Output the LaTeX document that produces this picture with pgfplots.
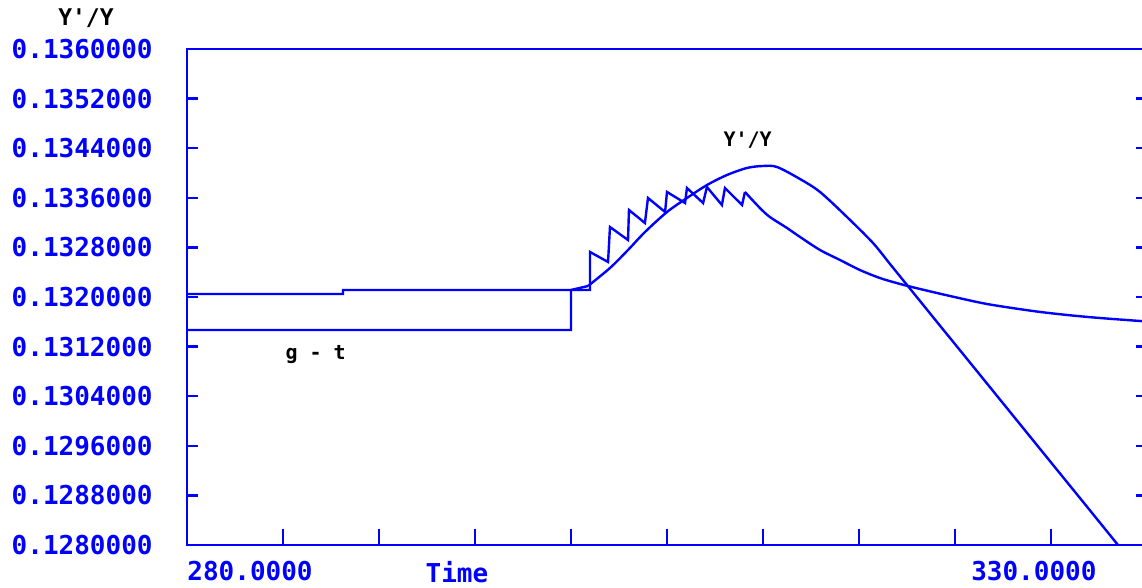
\documentclass[border=0pt]{standalone}
\usepackage{fontspec}
\usepackage{pgfplots}
\pgfplotsset{compat=1.18}
\newfontfamily\mono{DejaVu Sans Mono}
\definecolor{pblue}{RGB}{0,0,255}
\begin{document}
\begin{tikzpicture}
\begin{axis}[
  scale only axis,
  width=480pt, height=248pt,
  xmin=280, xmax=330, ymin=0.128, ymax=0.136,
  axis line style={pblue, line width=1.2pt},
  tick style={pblue, line width=1.2pt},
  tick align=inside,
  major tick length=5.5pt,
  xtick style={/pgfplots/major tick length=8pt},
  xtick={280,285,...,325},
  xticklabel=\empty,
  xtick pos=bottom,
  ytick pos=both,
  ytick={0.128,0.1288,0.1296,0.1304,0.1312,0.132,0.1328,0.1336,0.1344,0.1352,0.136},
  yticklabels={0.1280000,0.1288000,0.1296000,0.1304000,0.1312000,0.1320000,0.1328000,0.1336000,0.1344000,0.1352000,0.1360000},
  scaled y ticks=false,
  yticklabel style={font=\mono\bfseries\fontsize{13}{13}\selectfont, text=pblue, anchor=east, inner sep=0pt, xshift=-17pt},
  clip=false,
]
% g - t : step part
\addplot[pblue, line width=1.2pt] coordinates {
(280,0.131468) (300,0.131468) (300,0.132113) (300.885,0.132177)
};
% g - t : smooth part
\addplot[pblue, line width=1.2pt, smooth, tension=0.5] coordinates {
(300.885,0.132177) (302.031,0.132468) (302.969,0.132758) (303.854,0.133048)
(305.0,0.133371) (306.042,0.133597) (307.083,0.133806) (308.125,0.133968)
(309.167,0.134081) (310.0,0.134113) (310.729,0.134097) (311.927,0.133903)
(312.969,0.133694) (314.375,0.133290) (315.729,0.132871) (316.615,0.132532)
(317.5,0.132194) (318.333,0.131876) (319.219,0.131537) (320.0,0.131240)
(321.458,0.130684) (323.229,0.130008) (324.948,0.129352) (326.667,0.128697)
(328.49,0.128000)
};
% Y'/Y : step and sawtooth part
\addplot[pblue, line width=1.2pt] coordinates {
(280,0.132048) (288.125,0.132048) (288.125,0.132113) (300.99,0.132113)
(300.99,0.132726) (301.93,0.132565) (302.03,0.133129) (302.97,0.132919)
(303.02,0.133403) (303.85,0.133194) (304.01,0.133597) (304.90,0.133371)
(305.00,0.133694) (305.94,0.133516) (306.04,0.133758) (306.88,0.133516)
(307.08,0.133774) (307.86,0.133484) (308.02,0.133758) (308.91,0.133484)
(309.06,0.133694)
};
% Y'/Y : smooth decline
\addplot[pblue, line width=1.2pt, smooth, tension=0.5] coordinates {
(309.06,0.133694) (309.84,0.133435) (310.36,0.133290) (311.25,0.133113)
(311.93,0.132968) (312.97,0.132758) (314.01,0.132597) (315.05,0.132435)
(316.09,0.132306) (317.14,0.132210) (318.18,0.132129) (319.74,0.132016)
(321.67,0.131887) (324.06,0.131774) (325.83,0.131710) (327.55,0.131661)
(330,0.131605)
};
\coordinate (BL) at (rel axis cs:0,0);
\coordinate (TL) at (rel axis cs:0,1);
\node[font=\mono\bfseries\fontsize{10}{10}\selectfont] at (axis cs:309.2,0.134532) {Y'/Y};
\node[font=\mono\bfseries\fontsize{10}{10}\selectfont] at (axis cs:286.7,0.131065) {g - t};
\node[anchor=north west, inner sep=0pt, text=pblue, font=\mono\bfseries\fontsize{13}{13}\selectfont] at ([yshift=-8pt]BL) {280.0000};
\node[anchor=north, inner sep=0pt, text=pblue, font=\mono\bfseries\fontsize{13}{13}\selectfont] at ([yshift=-8pt]axis cs:294.06,0.128) {Time};
\node[anchor=north, inner sep=0pt, text=pblue, font=\mono\bfseries\fontsize{13}{13}\selectfont] at ([yshift=-8pt]axis cs:324.11,0.128) {330.0000};
\node[font=\mono\bfseries\fontsize{11.5}{11.5}\selectfont, inner sep=0pt] at ([xshift=-50.5pt,yshift=15.5pt]TL) {Y'/Y};
\end{axis}
\pgfresetboundingbox
\path ([xshift=-93.5pt,yshift=-21.5pt]BL) rectangle ([xshift=477.5pt,yshift=24.5pt]TL);
\end{tikzpicture}
\end{document}
